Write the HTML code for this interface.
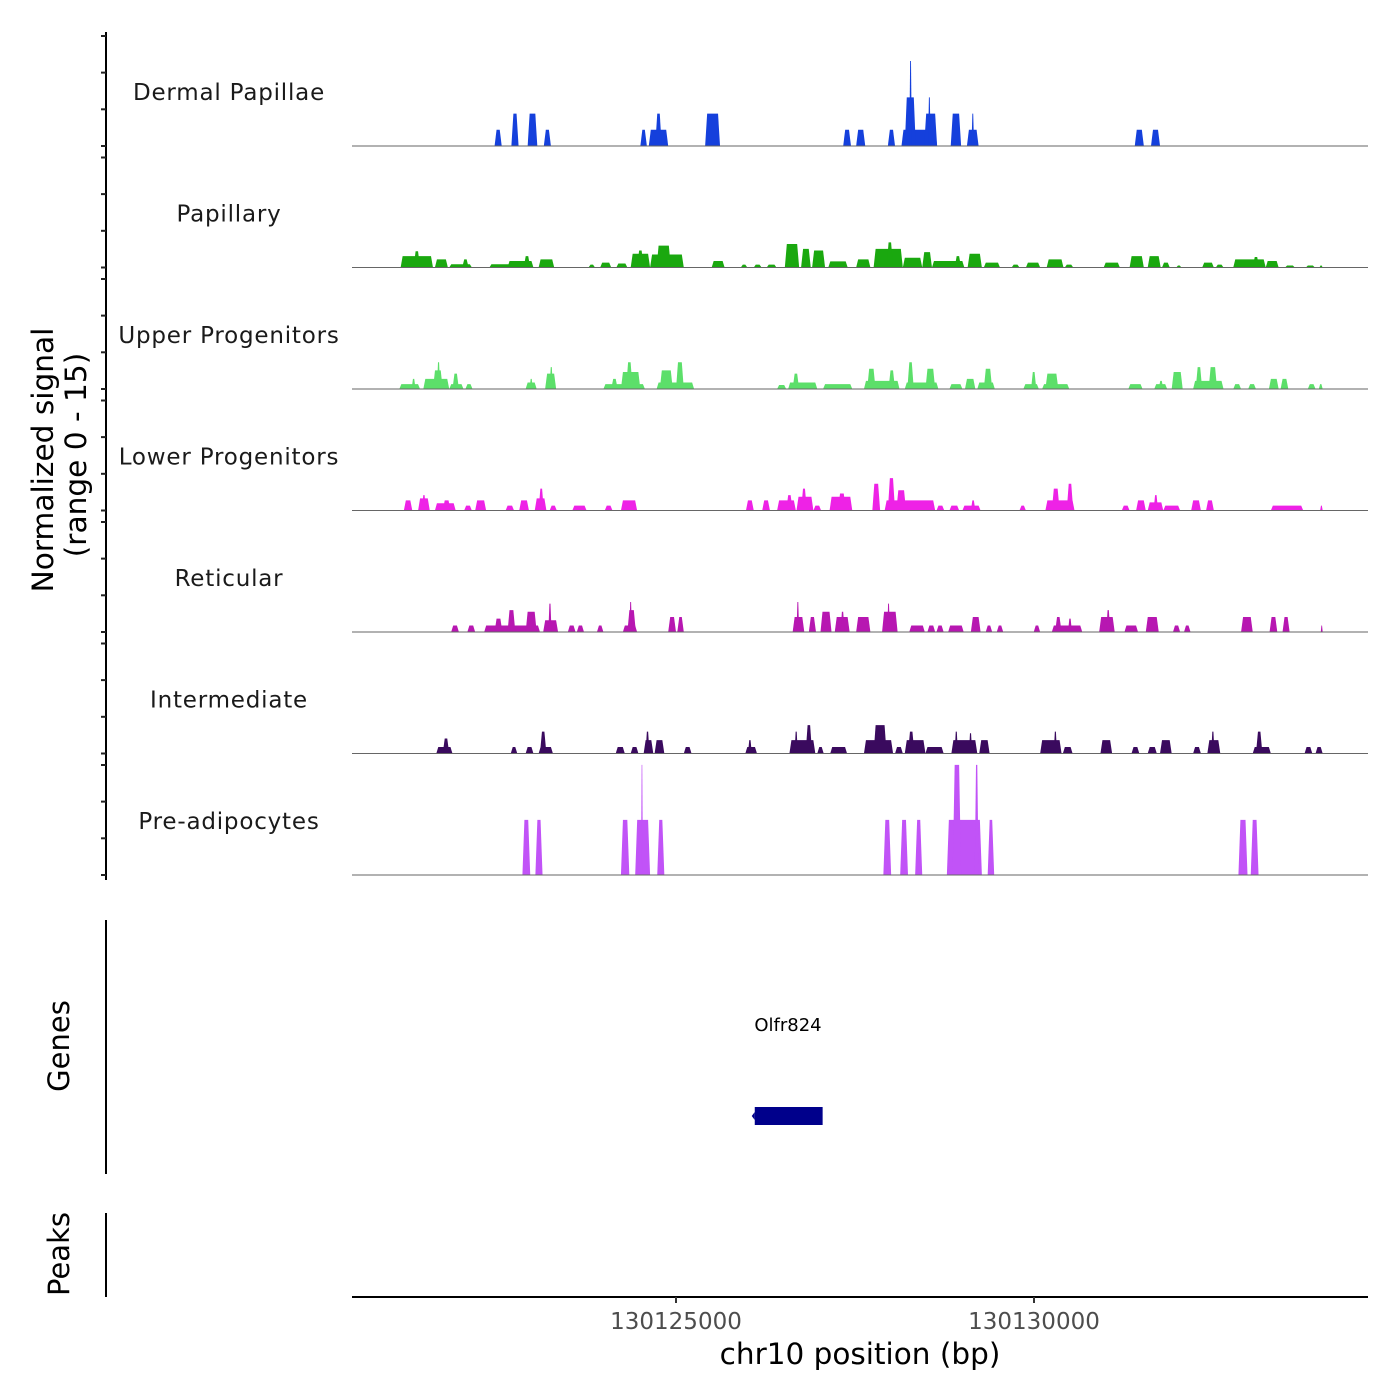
<!DOCTYPE html>
<html><head><meta charset="utf-8"><style>
html,body{margin:0;padding:0;background:#fff;}
svg{display:block;font-family:"DejaVu Sans","Liberation Sans",sans-serif;}
</style></head><body>
<svg id="chart" width="1400" height="1400" viewBox="0 0 1400 1400" xmlns="http://www.w3.org/2000/svg">
<rect width="1400" height="1400" fill="#fff"/>
<g id="tracks"></g>
<g id="yaxis"></g>
<text transform="translate(53,460) rotate(-90)" text-anchor="middle" font-size="29.6" fill="#000">Normalized signal</text>
<text transform="translate(86,455) rotate(-90)" text-anchor="middle" font-size="29.6" fill="#000">(range 0 - 15)</text>
<line x1="106" y1="920" x2="106" y2="1174" stroke="#000" stroke-width="2"/>
<text transform="translate(69,1046) rotate(-90)" text-anchor="middle" font-size="29" fill="#000">Genes</text>
<line x1="106" y1="1213" x2="106" y2="1297" stroke="#000" stroke-width="2"/>
<text transform="translate(69,1254) rotate(-90)" text-anchor="middle" font-size="29" fill="#000">Peaks</text>
<g id="gene">
<text x="788" y="1031" text-anchor="middle" font-size="18" fill="#000">Olfr824</text>
</g>
<g id="xaxis"></g>
<text x="860" y="1364" text-anchor="middle" font-size="29.5" fill="#000">chr10 position (bp)</text>
</svg>
<script>
const regionStart = 130120475;
const trackNames = ["Dermal Papillae","Papillary","Upper Progenitors","Lower Progenitors","Reticular","Intermediate","Pre-adipocytes"];
const trackColors = ["#1540dc","#1aa80f","#5cdf6a","#ee22e6","#b717b1","#3a0a5e","#c153f7"];
const xTicks = [130125000,130130000];
const xTickLabels = ["130125000","130130000"];
const yTickValues = [0,4.53,9.06,13.58];
const geneStart = 130126100, geneEnd = 130127020;
// peaks: [startOffset(bp from regionStart), endOffset, height]
const dermalPapillaePeaks = [[1991,2091,2],[2226,2326,4],[2453,2588,4],[2679,2778,2],[4027,4118,2],[4145,4416,2],[4235,4326,4],[4932,5140,4],[6860,6969,2],[7041,7168,2],[7484,7584,2],[7674,8172,2],[7720,7874,6],[7783,7819,10.5],[7991,8172,4],[8045,8082,6],[8362,8507,4],[8588,8751,2],[8652,8688,4],[10932,11059,2],[11159,11285,2]];
const papillaryPeaks = [[679,1131,1.4],[860,950,2.0],[1158,1339,1.0],[1358,1674,0.4],[1539,1629,1.0],[1919,2217,0.4],[2172,2534,0.8],[2398,2489,1.4],[2606,2824,1.0],[3303,3394,0.35],[3466,3620,0.6],[3692,3846,0.5],[3892,4163,1.7],[3982,4073,2.1],[4163,4634,1.6],[4254,4453,2.7],[5023,5204,0.8],[5430,5521,0.35],[5611,5720,0.35],[5792,5928,0.35],[6045,6245,2.9],[6272,6407,2.3],[6426,6607,2.1],[6652,6923,0.75],[7041,7240,1.0],[7285,7693,2.3],[7466,7557,3.1],[7693,7964,1.2],[7964,8100,1.9],[8100,8552,0.8],[8417,8507,1.4],[8598,8797,1.7],[8824,9050,0.6],[9213,9322,0.35],[9412,9611,0.6],[9702,9937,1.0],[9955,10073,0.35],[10498,10724,0.6],[10860,11059,1.4],[11113,11294,1.4],[11313,11421,0.6],[11512,11584,0.25],[11874,12037,0.6],[12064,12172,0.35],[12308,12761,1.0],[12580,12670,1.3],[12761,12942,0.8],[13032,13168,0.25],[13322,13448,0.25],[13512,13557,0.25]];
const upperProgenitorsPeaks = [[661,950,0.6],[833,887,1.25],[996,1358,1.25],[1131,1267,2.3],[1186,1231,3.3],[1358,1557,0.6],[1403,1493,1.9],[1584,1683,0.6],[2425,2579,0.8],[2480,2525,1.25],[2697,2851,1.9],[2760,2806,2.7],[3511,4091,0.6],[3620,3711,1.25],[3756,4027,2.1],[3828,3919,3.3],[4254,4778,0.8],[4299,4480,2.3],[4525,4634,3.3],[5937,6064,0.5],[6091,6498,0.8],[6154,6245,1.9],[6579,6987,0.6],[7150,7647,1.0],[7195,7312,2.5],[7493,7584,2.3],[7720,8190,0.8],[7756,7846,3.3],[8009,8145,2.5],[8344,8525,0.6],[8561,8706,1.25],[8733,8978,0.8],[8824,8941,2.5],[9376,9593,0.6],[9484,9557,2.1],[9638,10018,0.6],[9684,9865,1.9],[10842,11041,0.6],[11204,11385,0.6],[11267,11331,1.0],[11448,11602,2.1],[11747,12172,1.0],[11783,11874,2.7],[11964,12082,2.7],[12308,12417,0.6],[12516,12625,0.6],[12806,12942,1.25],[12969,13077,1.25],[13349,13457,0.6],[13503,13557,0.6]];
const lowerProgenitorsPeaks = [[724,842,1.25],[923,1086,1.5],[977,1032,1.9],[1158,1448,0.9],[1267,1376,1.25],[1566,1674,0.6],[1720,1873,1.25],[2145,2263,0.6],[2335,2471,1.25],[2552,2715,1.5],[2606,2679,2.7],[2760,2860,0.6],[3077,3276,0.6],[3530,3638,0.6],[3756,3982,1.25],[5502,5611,1.25],[5729,5837,1.25],[5937,6199,1.25],[6064,6154,1.9],[6208,6444,1.7],[6272,6353,2.7],[6444,6552,0.6],[6670,6987,1.7],[6788,6896,2.1],[7267,7376,3.3],[7439,8145,1.25],[7484,7584,4.0],[7602,7738,2.5],[8163,8272,0.6],[8344,8480,0.6],[8525,8779,0.6],[8643,8706,1.25],[9322,9412,0.6],[9684,10091,1.25],[9774,9883,2.7],[9982,10073,3.3],[10751,10860,0.6],[10951,11086,1.25],[11113,11331,1.0],[11195,11258,1.9],[11331,11566,0.6],[11720,11856,1.25],[11928,12037,1.25],[12833,13285,0.6],[13521,13557,0.6]];
const reticularPeaks = [[1385,1493,0.8],[1611,1720,0.8],[1846,2625,0.8],[1991,2100,1.65],[2172,2281,2.7],[2425,2579,2.5],[2670,2878,1.45],[2742,2787,3.5],[3014,3122,0.8],[3140,3240,0.8],[3421,3511,0.8],[3783,3982,0.8],[3846,3964,2.7],[3873,3910,3.7],[4416,4525,1.85],[4543,4634,1.85],[6154,6317,1.85],[6208,6245,3.7],[6380,6480,1.85],[6543,6697,2.5],[6742,6950,1.85],[6824,6878,2.5],[7041,7240,1.85],[7403,7620,2.5],[7475,7512,3.5],[7783,8000,0.8],[8036,8145,0.8],[8163,8263,0.8],[8326,8543,0.8],[8643,8779,1.85],[8851,8941,0.8],[9005,9095,0.8],[9521,9611,0.8],[9774,10199,0.8],[9819,9910,1.85],[10000,10055,1.65],[10435,10652,1.85],[10534,10589,2.7],[10788,10978,0.8],[11086,11267,1.85],[11466,11566,0.8],[11620,11711,0.8],[12417,12580,1.85],[12815,12923,1.85],[12996,13095,1.85],[13530,13557,0.8]];
const intermediatePeaks = [[1177,1403,0.8],[1267,1358,1.85],[2217,2308,0.8],[2425,2534,0.8],[2606,2806,0.8],[2625,2715,2.7],[3683,3810,0.8],[3892,4000,0.8],[4073,4208,1.65],[4100,4154,2.7],[4226,4362,1.65],[4634,4742,0.8],[5493,5656,0.8],[5530,5584,1.65],[6109,6471,1.65],[6181,6226,2.7],[6335,6426,3.5],[6498,6588,0.8],[6679,6914,0.8],[7150,7557,1.65],[7285,7466,3.5],[7584,7693,0.8],[7720,8009,1.65],[7765,7855,2.7],[8009,8263,0.8],[8371,8733,1.65],[8417,8462,2.7],[8616,8661,2.5],[8760,8905,1.65],[9611,9910,1.65],[9801,9846,2.7],[9928,10064,0.8],[10453,10616,1.65],[10887,10996,0.8],[11113,11240,0.8],[11285,11448,1.65],[11747,11856,0.8],[11946,12127,1.65],[12000,12046,2.7],[12580,12833,0.8],[12625,12715,2.7],[13304,13412,0.8],[13457,13557,0.8]];
const preAdipocytesPeaks = [[2380,2489,6.8],[2561,2661,6.8],[3756,3873,6.8],[3955,4163,6.8],[4036,4063,13.6],[4263,4362,6.8],[7421,7530,6.8],[7656,7765,6.8],[7865,7964,6.8],[8308,8797,6.8],[8389,8507,13.6],[8697,8751,13.6],[8878,8969,6.8],[12380,12507,6.8],[12552,12661,6.8]];
const allPeaks = [dermalPapillaePeaks,papillaryPeaks,upperProgenitorsPeaks,lowerProgenitorsPeaks,reticularPeaks,intermediatePeaks,preAdipocytesPeaks];

const NS = "http://www.w3.org/2000/svg";
const X0 = 352, X1 = 1368;
function xScale(bp){ return 676 + (bp - 130125000) * (358 / 5000); }
const pxPerUnit = 121.5 / 15;
function trackBase(k){ return 146 + 121.5 * k; }
function yScale(k, v){ return trackBase(k) - v * pxPerUnit; }
function mk(tag, attrs, parent){ const e = document.createElementNS(NS, tag); for (const a in attrs) e.setAttribute(a, attrs[a]); parent.appendChild(e); return e; }

const tracksG = document.getElementById('tracks');
allPeaks.forEach(function(peaks, k){
  const g = mk('g', {}, tracksG);
  
  
  const lbl = mk('text', {x: 229, y: trackBase(k) - 46, 'text-anchor': 'middle', 'font-size': 23, fill: '#1a1a1a', 'letter-spacing': '0.8'}, g);
  lbl.textContent = trackNames[k];
  
  
  const base = trackBase(k);
  peaks.forEach(function(p){
    const xa = xScale(regionStart + p[0]), xb = xScale(regionStart + p[1]);
    const t = Math.min(2, (xb - xa) / 3);
    const top = yScale(k, p[2]);
    const poly = mk('polygon', {points: xa+','+base+' '+(xa+t)+','+top+' '+(xb-t)+','+top+' '+xb+','+base, fill: trackColors[k]}, g);
    
    
  });
  const bl = mk('line', {x1: X0, x2: X1, y1: base, y2: base, stroke: '#666', 'stroke-width': 1}, g);
  
  
});

const yG = document.getElementById('yaxis');
const yl = mk('line', {x1: 106, x2: 106, y1: 32, y2: 880, stroke: '#000', 'stroke-width': 2}, yG);


for (let k = 0; k < 7; k++) {
  yTickValues.forEach(function(v){
    const y = yScale(k, v);
    const tk = mk('line', {x1: 101, x2: 106, y1: y, y2: y, stroke: '#222', 'stroke-width': 2}, yG);
    
    
  });
}

const geneG = document.getElementById('gene');
const gx0 = xScale(geneStart), gx1 = xScale(geneEnd);
const gr = mk('rect', {x: gx0, y: 1107, width: gx1 - gx0 + 2, height: 18, fill: '#00008b'}, geneG);


const ga = mk('polygon', {points: (gx0-3)+',1116 '+gx0+',1112 '+gx0+',1120', fill: '#00008b'}, geneG);



const xG = document.getElementById('xaxis');
const xl = mk('line', {x1: X0, x2: X1, y1: 1297, y2: 1297, stroke: '#000', 'stroke-width': 2}, xG);


xTicks.forEach(function(b, i){
  const x = xScale(b);
  const tk = mk('line', {x1: x, x2: x, y1: 1297, y2: 1303, stroke: '#333', 'stroke-width': 2}, xG);
  
  
  const tl = mk('text', {x: x, y: 1329, 'text-anchor': 'middle', 'font-size': 23, fill: '#4d4d4d'}, xG);
  tl.textContent = xTickLabels[i];
  
  
});
</script>
</body></html>
